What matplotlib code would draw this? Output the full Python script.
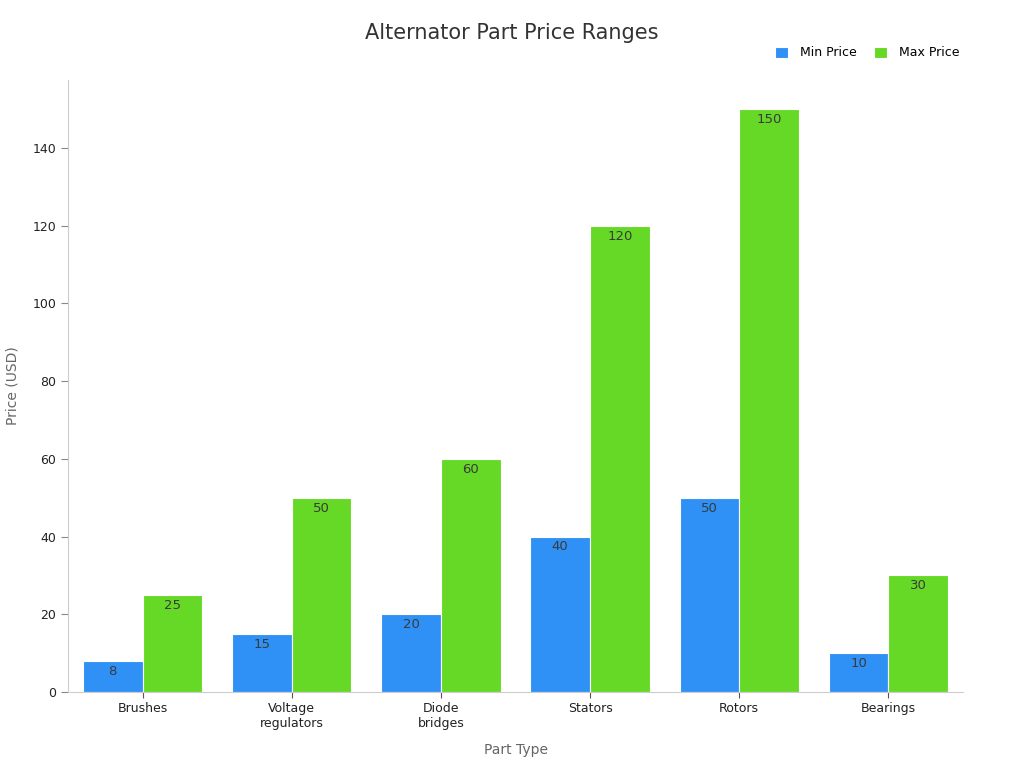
import numpy as np
import matplotlib.pyplot as plt

# data
parts = ["Brushes", "Voltage\nregulators", "Diode\nbridges", "Stators", "Rotors", "Bearings"]
min_price = [8, 15, 20, 40, 50, 10]
max_price = [25, 50, 60, 120, 150, 30]

blue = "#2F91F5"
green = "#66D926"

fig = plt.figure(figsize=(10.24, 7.68), dpi=100)
ax = fig.add_axes([68/1024, 1 - 692/768, (963-68)/1024, (692-80)/768])

x = np.arange(len(parts))
w = 0.4
b1 = ax.bar(x - w/2, min_price, w, color=blue, edgecolor="white", linewidth=0.8, label="Min Price")
b2 = ax.bar(x + w/2, max_price, w, color=green, edgecolor="white", linewidth=0.8, label="Max Price")

# value labels just inside the top of each bar
for bars in (b1, b2):
    for r in bars:
        h = r.get_height()
        ax.text(r.get_x() + r.get_width()/2, h - 1.0, f"{h:g}", ha="center", va="top",
                fontsize=9.5, color="#3a3a3a")

ax.set_xlim(-0.5, 5.5)
ax.set_ylim(0, 157.5)
ax.set_xticks(x)
ax.set_xticklabels(parts, fontsize=9, color="#222222")
ax.set_yticks(range(0, 141, 20))
ax.tick_params(axis="y", labelsize=9, colors="#222222")
ax.tick_params(axis="y", color="#888888", length=5)
ax.tick_params(axis="x", color="#555555", length=4)

for s in ["top", "right"]:
    ax.spines[s].set_visible(False)
for s in ["left", "bottom"]:
    ax.spines[s].set_color("#cccccc")

ax.set_xlabel("Part Type", fontsize=10, color="#666666", va="center")
ax.set_ylabel("Price (USD)", fontsize=10, color="#666666", va="center")
ax.xaxis.set_label_coords(0.5, (692 - 750) / 612)
ax.yaxis.set_label_coords((13 - 68) / 895, 0.5)

fig.text(0.5, 1 - 33/768, "Alternator Part Price Ranges", ha="center", va="center",
         fontsize=15, color="#333333")

ax.legend(loc="center right", bbox_to_anchor=(971/1024, 1 - 53/768), bbox_transform=fig.transFigure,
          ncol=2, frameon=False, fontsize=9, handlelength=1.0, handleheight=1.0,
          handletextpad=1.0, columnspacing=1.4)

fig.savefig("out.png", dpi=100)
